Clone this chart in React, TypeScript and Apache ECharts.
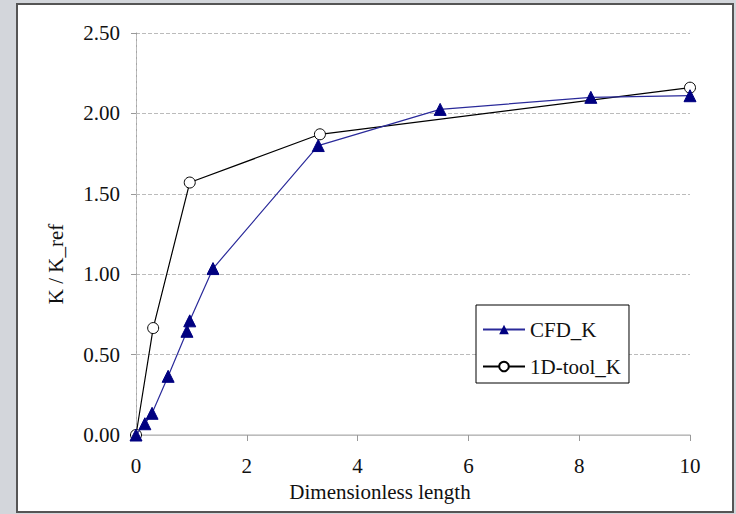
import React, { useEffect, useRef } from "react";
import * as echarts from "echarts";

const cfdX = [0, 0.16, 0.29, 0.58, 0.92, 0.97, 1.39, 3.29, 5.49, 8.21, 10];
const cfdY = [0, 0.07, 0.135, 0.365, 0.645, 0.71, 1.035, 1.8, 2.025, 2.1, 2.11];
const toolX = [0, 0.31, 0.97, 3.32, 10];
const toolY = [0, 0.665, 1.57, 1.87, 2.16];
const xTicks = [0, 2, 4, 6, 8, 10];
const yTicks = [0, 0.5, 1, 1.5, 2, 2.5];

const FONT = "Liberation Serif";

export default function App() {
  const ref = useRef<HTMLDivElement>(null);
  useEffect(() => {
    const chart = echarts.init(ref.current!, null, { renderer: "svg" });
    chart.setOption({
      animation: false,
      backgroundColor: "#d3d6db",
      textStyle: { fontFamily: FONT },
      graphic: [
        {
          type: "rect",
          z: -10,
          shape: { x: 17, y: 4, width: 716, height: 508 },
          style: { fill: "#ffffff", stroke: "#555555", lineWidth: 2 },
          silent: true,
        },
      ],
      grid: { left: 136, right: 46, top: 33, bottom: 79 },
      legend: {
        left: 476,
        top: 305,
        orient: "vertical",
        borderColor: "#000",
        borderWidth: 1,
        padding: [14, 8, 6, 6],
        itemGap: 16,
        itemWidth: 42,
        itemHeight: 12,
        backgroundColor: "#fff",
        textStyle: { fontFamily: FONT, fontSize: 21, color: "#111" },
        data: ["CFD_K", "1D-tool_K"],
      },
      xAxis: [
        {
          type: "value",
          min: 0,
          max: 10,
          interval: 2,
          name: "Dimensionless length",
          nameLocation: "middle",
          nameGap: 46,
          nameTextStyle: {
            fontFamily: FONT,
            fontSize: 21,
            color: "#111",
            padding: [0, 66, 0, 0],
          },
          axisLine: { lineStyle: { color: "#999", width: 1 } },
          axisTick: { show: true, length: 6, lineStyle: { color: "#999" } },
          axisLabel: {
            fontFamily: FONT,
            fontSize: 21,
            color: "#111",
            margin: 20,
            customValues: xTicks,
          },
          splitLine: { show: false },
        },
        {
          type: "value",
          position: "top",
          min: 0,
          max: 10,
          axisLine: { show: true, lineStyle: { color: "#c8c8c8", width: 1.5 } },
          axisTick: { show: false },
          axisLabel: { show: false },
          splitLine: { show: false },
        },
      ],
      yAxis: [
        {
          type: "value",
          min: 0,
          max: 2.5,
          interval: 0.5,
          name: "K / K_ref",
          nameLocation: "middle",
          nameGap: 70,
          nameTextStyle: {
            fontFamily: FONT,
            fontSize: 21,
            color: "#111",
            padding: [0, 60, 0, 0],
          },
          axisLine: { show: true, lineStyle: { color: "#999", width: 1 } },
          axisTick: { show: true, length: 5, lineStyle: { color: "#999" } },
          axisLabel: {
            fontFamily: FONT,
            fontSize: 21,
            color: "#111",
            margin: 16,
            formatter: (v: number) => v.toFixed(2),
            customValues: yTicks,
          },
          splitLine: { show: true, lineStyle: { color: "#bbbbbb", type: "dashed" } },
        },
        {
          type: "value",
          position: "right",
          min: 0,
          max: 2.5,
          axisLine: { show: true, lineStyle: { color: "#bbbbbb", type: "dashed" } },
          axisTick: { show: false },
          axisLabel: { show: false },
          splitLine: { show: false },
        },
      ],
      series: [
        {
          name: "1D-tool_K",
          type: "line",
          data: toolX.map((x, i) => [x, toolY[i]]),
          symbol: "circle",
          symbolSize: 11,
          itemStyle: { color: "#ffffff", borderColor: "#000000", borderWidth: 1 },
          lineStyle: { color: "#000000", width: 1.2 },
          z: 2,
        },
        {
          name: "CFD_K",
          type: "line",
          data: cfdX.map((x, i) => [x, cfdY[i]]),
          symbol: "triangle",
          symbolSize: 12,
          itemStyle: { color: "#000080", borderColor: "#000080" },
          lineStyle: { color: "#2a2a9a", width: 1.2 },
          z: 3,
        },
      ],
    });
    return () => chart.dispose();
  }, []);
  return (
    <div
      ref={ref}
      style={{ position: "absolute", left: 0, top: 0, width: 736, height: 514 }}
    />
  );
}
